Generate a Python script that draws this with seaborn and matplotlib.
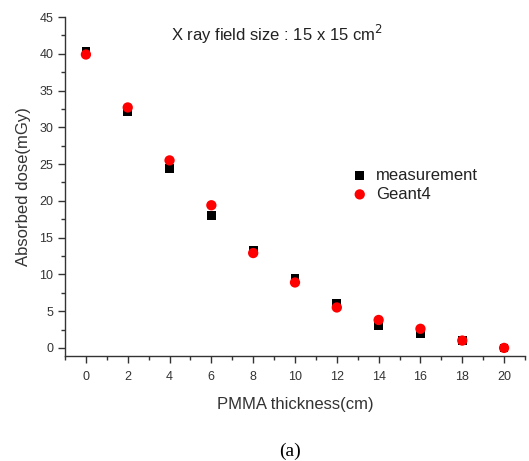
import matplotlib
matplotlib.use("Agg")
import matplotlib.pyplot as plt
import seaborn as sns
import pandas as pd
from matplotlib.ticker import MultipleLocator

thickness = [0, 2, 4, 6, 8, 10, 12, 14, 16, 18, 20]
measurement = [40.3, 32.1, 24.4, 18.0, 13.3, 9.4, 6.1, 3.1, 2.0, 1.0, 0.0]
geant4 = [39.9, 32.7, 25.5, 19.4, 12.9, 8.9, 5.5, 3.8, 2.6, 1.0, 0.0]
x_ticks = [0, 2, 4, 6, 8, 10, 12, 14, 16, 18, 20]
y_ticks = [0, 5, 10, 15, 20, 25, 30, 35, 40, 45]

sns.set_style("ticks")
plt.rcParams['font.family'] = ['Liberation Sans', 'DejaVu Sans']

df = pd.DataFrame({
    "thickness": thickness * 2,
    "dose": measurement + geant4,
    "series": ["measurement"] * len(thickness) + ["Geant4"] * len(thickness),
})

fig = plt.figure(figsize=(5.29, 4.61), dpi=100)
ax = fig.add_axes([65/529, 105/461, 460/529, 339/461])

sns.scatterplot(data=df[df.series == "measurement"], x="thickness", y="dose",
                marker="s", color="black", s=40, edgecolor="none", ax=ax,
                label="measurement", zorder=2)
sns.scatterplot(data=df[df.series == "Geant4"], x="thickness", y="dose",
                marker="o", color="red", s=55, edgecolor="none", ax=ax,
                label="Geant4", zorder=3)

ax.set_xlim(-1, 21)
ax.set_ylim(-1.1, 45)
ax.set_xticks(x_ticks)
ax.set_yticks(y_ticks)
ax.xaxis.set_minor_locator(MultipleLocator(1))
ax.yaxis.set_minor_locator(MultipleLocator(2.5))
ax.tick_params(axis="both", which="major", length=5, width=1, labelsize=9,
               labelcolor="#333333", color="#333333", direction="out")
ax.tick_params(axis="x", which="major", pad=6)
ax.tick_params(axis="both", which="minor", length=3, width=1,
               color="#333333", direction="out")
for side in ["top", "right"]:
    ax.spines[side].set_visible(False)
for side in ["left", "bottom"]:
    ax.spines[side].set_color("#333333")
    ax.spines[side].set_linewidth(1)

ax.set_xlabel("PMMA thickness(cm)", fontsize=12, color="#333333", labelpad=10)
ax.set_ylabel("Absorbed dose(mGy)", fontsize=12, color="#333333", labelpad=6)

ax.text(0.46, 0.95, "X ray field size : 15 x 15 cm$^2$", transform=ax.transAxes,
        fontsize=12, color="#222222", ha="center", va="center")

leg = ax.legend(loc="upper left", bbox_to_anchor=(0.59, 0.60), frameon=False,
                fontsize=12, handletextpad=0.5, labelspacing=0.25,
                handlelength=1.0, markerscale=1.0)
for t in leg.get_texts():
    t.set_color("#222222")

fig.text(290/529, 1 - 451/461, "(a)", fontsize=14, family="Liberation Serif",
         ha="center", va="center", color="black")

fig.savefig("out.png", dpi=100)
